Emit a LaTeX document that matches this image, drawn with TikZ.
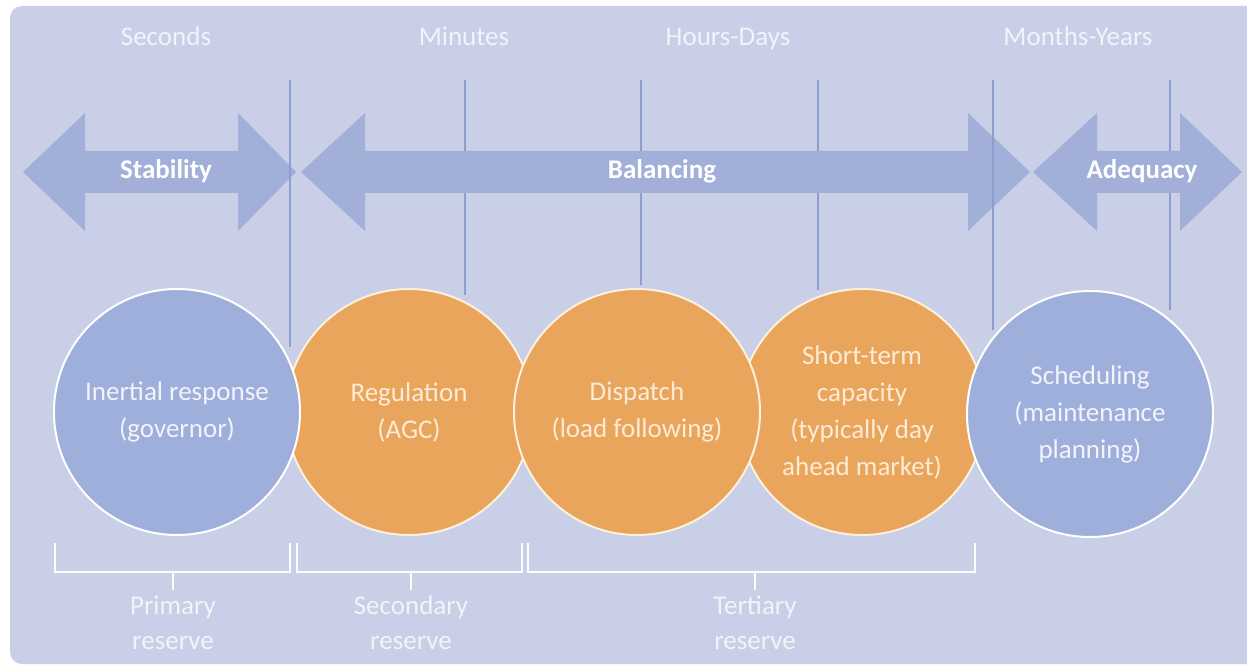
\documentclass[tikz,border=0pt]{standalone}
\usepackage{fontspec}
\setmainfont{Carlito}
\definecolor{panel}{HTML}{C9CFE6}
\definecolor{band}{HTML}{A1AFD9}
\definecolor{rule}{HTML}{8E9DD0}
\definecolor{bluedisc}{HTML}{9FAFDC}
\definecolor{orangedisc}{HTML}{E9A55B}
\definecolor{orangerim}{HTML}{FDF0DD}
\definecolor{paletext}{HTML}{F2F4FA}
\definecolor{creamtext}{HTML}{FDEBD5}
\tikzset{
  timelabel/.style={text=paletext, font=\fontsize{27}{34}\selectfont, inner sep=0pt, anchor=base},
  bandlabel/.style={text=white, font=\fontsize{27}{34}\selectfont\bfseries, inner sep=0pt},
  disc/.style={circle, minimum size=246pt, inner sep=0pt, line width=2pt,
               align=center, font=\fontsize{27}{37}\selectfont},
  bluedisc/.style={disc, fill=bluedisc, draw=white, text=paletext},
  orangedisc/.style={disc, fill=orangedisc, draw=orangerim, text=creamtext},
  divider/.style={draw=rule, line width=2pt},
  bracket/.style={draw=white!96!panel, line width=2.5pt},
  reservelabel/.style={text=paletext, align=center, inner sep=0pt,
                       font=\fontsize{27}{35}\selectfont}
}
% double-headed band: left tip, left head base, right head base, right tip
\newcommand\timeband[4]{%
  \fill[band] (#1,172) -- (#2,113) -- (#2,151) -- (#3,151) -- (#3,113)
    -- (#4,172) -- (#3,231) -- (#3,193) -- (#2,193) -- (#2,231) -- cycle;}
\begin{document}
\begin{tikzpicture}[x=1pt,y=-1pt]
\useasboundingbox (0,0) rectangle (1247,671);
\fill[white] (0,0) rectangle (1247,671);
\begin{scope}
\clip (0,0) rectangle (1247,671);
\fill[panel, rounded corners=12pt] (10,6) rectangle (1280,664);
\end{scope}

% time scale headings
\node[timelabel] (sec) at (166,46) {Seconds};
\node[timelabel] (min) at (464,46) {Minutes};
\node[timelabel] (hrs) at (728,46) {Hours-Days};
\node[timelabel] (mon) at (1078,46) {Months-Years};

% the three horizon bands
\timeband{23}{85}{238}{296}
\timeband{301}{365}{968}{1030}
\timeband{1033}{1097}{1180}{1242}

% vertical dividers (hidden where they cross a band shaft)
\draw[divider] (290,80) -- (290,347);
\draw[divider] (993,80) -- (993,330);
\foreach \x/\yend in {465/295, 641/285, 818/290, 1170/310} {
  \draw[divider] (\x,80) -- (\x,151);
  \draw[divider] (\x,193) -- (\x,\yend);
}

\node[bandlabel] (stab) at (166,171) {Stability};
\node[bandlabel] (bal) at (662,171) {Balancing};
\node[bandlabel] (adeq) at (1142,171) {Adequacy};

% service discs
\node[orangedisc] (reg) at (409,412) {Regulation\\(AGC)};
\node[orangedisc] (stc) at (862,412) {Short-term\\capacity\\(typically day\\ahead market)};
\node[bluedisc] (inert) at (177,412) {Inertial response\\(governor)};
\node[orangedisc] (disp) at (637,412) {Dispatch\\(load following)};
\node[bluedisc] (sched) at (1090,414) {Scheduling\\(maintenance\\planning)};

% reserve brackets
\foreach \nm/\l/\m/\r in {prim/55/173/290, sec/297/411/522, tert/528/755/975} {
  \coordinate (\nm-l) at (\l,543);
  \coordinate (\nm-r) at (\r,543);
  \coordinate (\nm-m) at (\m,572);
  \coordinate (\nm-t) at (\m,590);
  \draw[bracket] (\nm-l) |- (\nm-m) -| (\nm-r);
  \draw[bracket] (\nm-m) -- (\nm-t);
}
\node[reservelabel, anchor=north] (primlab) at ([yshift=-6pt]prim-t) {Primary\\reserve};
\node[reservelabel, anchor=north] (seclab) at ([yshift=-6pt]sec-t) {Secondary\\reserve};
\node[reservelabel, anchor=north] (tertlab) at ([yshift=-6pt]tert-t) {Tertiary\\reserve};
\end{tikzpicture}
\end{document}
